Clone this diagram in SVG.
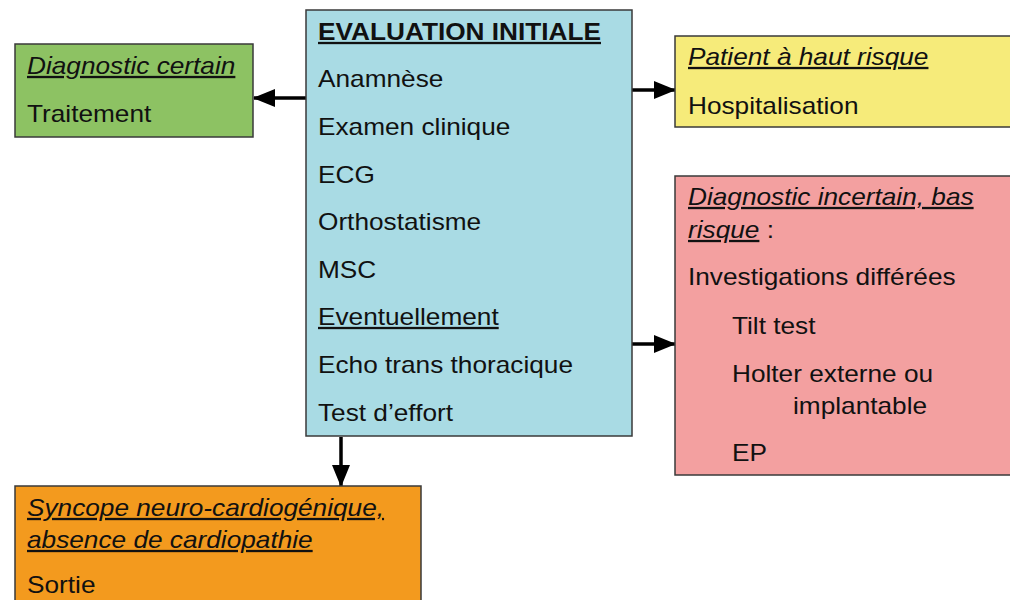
<svg xmlns="http://www.w3.org/2000/svg" width="1010" height="600" viewBox="0 0 1010 600">
<defs>
<style>
.box{stroke:#3a3a3a;stroke-width:1.5}
.t{font-family:"Liberation Sans",Arial,sans-serif;font-size:23px;fill:#111}
.b{font-weight:bold}
.i{font-style:italic}
.u{text-decoration:underline}
.c{stroke:#000;stroke-width:3.5;fill:none}
</style>
<marker id="ah" markerUnits="userSpaceOnUse" markerWidth="22" markerHeight="18" refX="21" refY="9" orient="auto">
<path d="M0,0 L22,9 L0,18 Z" fill="#000"/>
</marker>
</defs>
<rect width="1010" height="600" fill="#fff"/>
<g id="connectors">
<line class="c" x1="306" y1="98" x2="254" y2="98" marker-end="url(#ah)"/>
<line class="c" x1="632" y1="90" x2="675" y2="90" marker-end="url(#ah)"/>
<line class="c" x1="632" y1="344" x2="675" y2="344" marker-end="url(#ah)"/>
<line class="c" x1="341" y1="437" x2="341" y2="486" marker-end="url(#ah)"/>
</g>
<g id="evaluation">
<rect class="box" x="306" y="10" width="326" height="426" fill="#a9dbe4"/>
<text class="t b u" transform="translate(318,40) scale(1.14,1)">EVALUATION INITIALE</text>
<text class="t" transform="translate(318,87) scale(1.14,1)">Anamnèse</text>
<text class="t" transform="translate(318,135) scale(1.14,1)">Examen clinique</text>
<text class="t" transform="translate(318,183) scale(1.14,1)">ECG</text>
<text class="t" transform="translate(318,230) scale(1.14,1)">Orthostatisme</text>
<text class="t" transform="translate(318,278) scale(1.14,1)">MSC</text>
<text class="t u" transform="translate(318,325) scale(1.14,1)">Eventuellement</text>
<text class="t" transform="translate(318,373) scale(1.14,1)">Echo trans thoracique</text>
<text class="t" transform="translate(318,421) scale(1.14,1)">Test d’effort</text>
</g>
<g id="diagnostic-certain">
<rect class="box" x="15" y="44" width="238" height="93" fill="#8dc263"/>
<text class="t i u" transform="translate(27,74) scale(1.14,1)">Diagnostic certain</text>
<text class="t" transform="translate(27,122) scale(1.14,1)">Traitement</text>
</g>
<g id="haut-risque">
<rect class="box" x="675" y="36" width="345" height="91" fill="#f6eb7a"/>
<text class="t i u" transform="translate(688,65) scale(1.14,1)">Patient à haut risque</text>
<text class="t" transform="translate(688,114) scale(1.14,1)">Hospitalisation</text>
</g>
<g id="incertain">
<rect class="box" x="675" y="176" width="345" height="299" fill="#f3a0a0"/>
<text class="t i u" transform="translate(688,205) scale(1.14,1)">Diagnostic incertain, bas</text>
<text class="t" transform="translate(688,238) scale(1.14,1)"><tspan class="i u">risque</tspan> :</text>
<text class="t" transform="translate(688,285) scale(1.14,1)">Investigations différées</text>
<text class="t" transform="translate(732,334) scale(1.14,1)">Tilt test</text>
<text class="t" transform="translate(732,382) scale(1.14,1)">Holter externe ou</text>
<text class="t" transform="translate(793,414) scale(1.14,1)">implantable</text>
<text class="t" transform="translate(732,461) scale(1.14,1)">EP</text>
</g>
<g id="syncope">
<rect class="box" x="15" y="486" width="406" height="130" fill="#f39a1e"/>
<text class="t i u" transform="translate(27,516) scale(1.14,1)">Syncope neuro-cardiogénique,</text>
<text class="t i u" transform="translate(27,548) scale(1.14,1)">absence de cardiopathie</text>
<text class="t" transform="translate(27,593) scale(1.14,1)">Sortie</text>
</g>
</svg>
